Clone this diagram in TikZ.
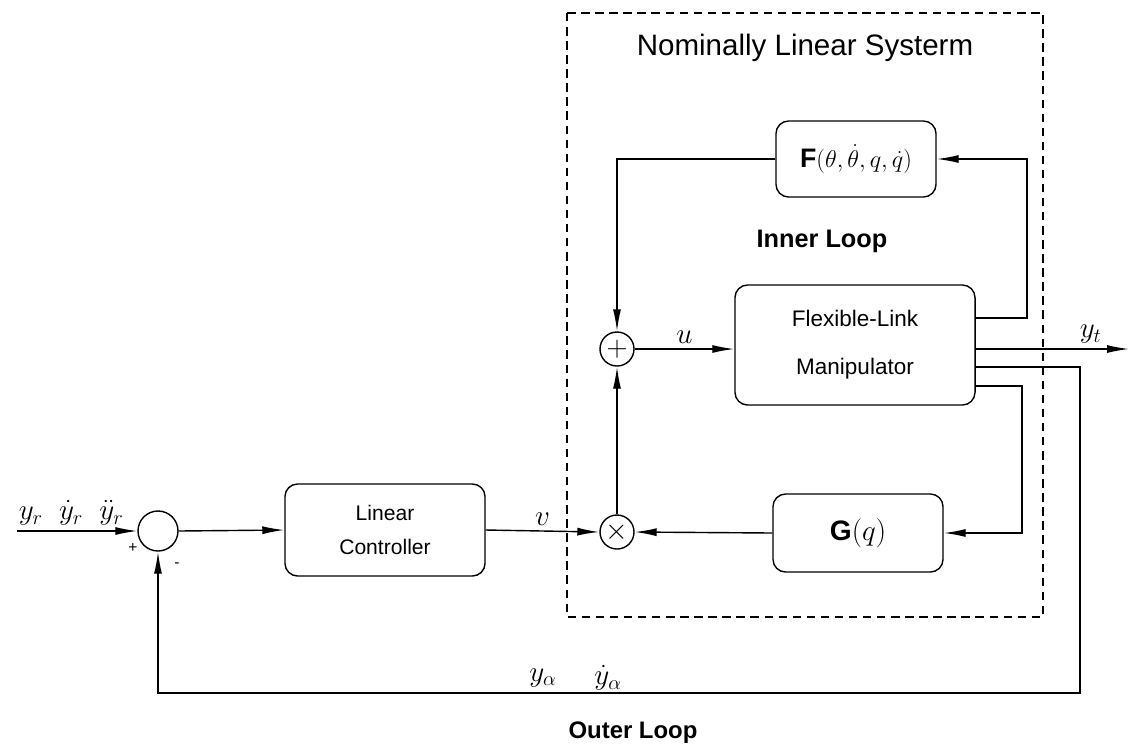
\documentclass[tikz,border=0pt]{standalone}
\usepackage{fontspec}
\setmainfont{Liberation Sans}
\usetikzlibrary{positioning}
\usetikzlibrary{arrows.meta}

\begin{document}
\begin{tikzpicture}[
    x=0.025cm, y=-0.025cm,
    blk/.style={draw, line width=1pt, rounded corners=9pt, align=center, font=\fontsize{15}{24}\selectfont},
    junc/.style={draw, circle, line width=1pt, inner sep=0pt},
    sig/.style={line width=1pt, -{Latex[length=5.5mm, width=2mm]}},
    lbl/.style={font=\fontsize{20}{22}\selectfont}
  ]
  \useasboundingbox (0,0) rectangle (1129,752);

  % nominally linear part
  \draw[dashed, line width=1pt, dash pattern=on 6pt off 4pt] (567,13) rectangle (1043,617);
  \node[font=\fontsize{21}{24}\selectfont] (nls) at (805,48) {Nominally Linear Systerm};

  \node[junc, minimum size=1cm] (sum) at (158,531) {};
  \node[blk, minimum width=5.0cm, minimum height=2.3cm] (lc) at (385,530) {Linear\\Controller};
  \node[junc, minimum size=0.85cm, font=\fontsize{22}{22}\selectfont] (tms) at (617,532) {$\times$};
  \node[junc, minimum size=0.85cm, font=\fontsize{22}{22}\selectfont] (pls) at (617,349) {$+$};
  \node[blk, minimum width=6.0cm, minimum height=3.0cm, font=\fontsize{16}{34}\selectfont] (flm) at (855,345) {Flexible-Link\\Manipulator};
  \node[blk, minimum width=4.0cm, minimum height=1.9cm, font=\fontsize{19}{22}\selectfont] (F) at (856,159) {$\mathbf{F}(\theta,\dot\theta,q,\dot q)$};
  \node[blk, minimum width=4.25cm, minimum height=1.95cm, font=\fontsize{20}{22}\selectfont] (G) at (858,533) {$\mathbf{G}(q)$};

  \node[font=\bfseries\fontsize{18}{20}\selectfont] (inl) at (822,241) {Inner Loop};
  \node[font=\bfseries\fontsize{17}{20}\selectfont] (otl) at (633,733) {Outer Loop};

  % free ends
  \coordinate (in) at (17,531);
  \coordinate (yt) at (1129,349);
  \coordinate (fo) at (976,318);
  \coordinate (go) at (976,386);
  \coordinate (ao) at (976,367);

  % outer loop
  \draw[sig] (in) -- (sum.west) node[pos=0.45, above, lbl] {$y_r\;\;\dot y_r\;\;\ddot y_r$};
  \node[font=\fontsize{11}{11}\selectfont] (pl) at (133,548) {+};
  \node[font=\fontsize{11}{11}\selectfont] (mn) at (177,565) {-};
  \draw[sig] (sum.east) -- (lc.west);
  \draw[sig] (lc.east) -- (tms.west) node[midway, above, lbl] {$v$};
  \draw[sig] (tms.north) -- (pls.south);
  \draw[sig] (pls.east) -- (pls.east -| flm.west) node[midway, above, lbl] {$u$};
  \draw[sig] (fo) -| (1027,159) -- (F.east);
  \draw[sig] (F.west) -| (pls.north);
  \draw[sig] (go) -| (1022,533) -- (G.east);
  \draw[sig] (G.west) -- (tms.east);
  \draw[sig] (flm.east |- yt) -- (yt) node[pos=0.75, above, lbl] {$y_t$};
  \draw[sig] (ao) -| (1080,693) -| (sum.south);
  \node[lbl] (ya) at (543,678) {$y_\alpha$};
  \node[lbl] (yda) at (608,678) {$\dot y_\alpha$};

\end{tikzpicture}
\end{document}
